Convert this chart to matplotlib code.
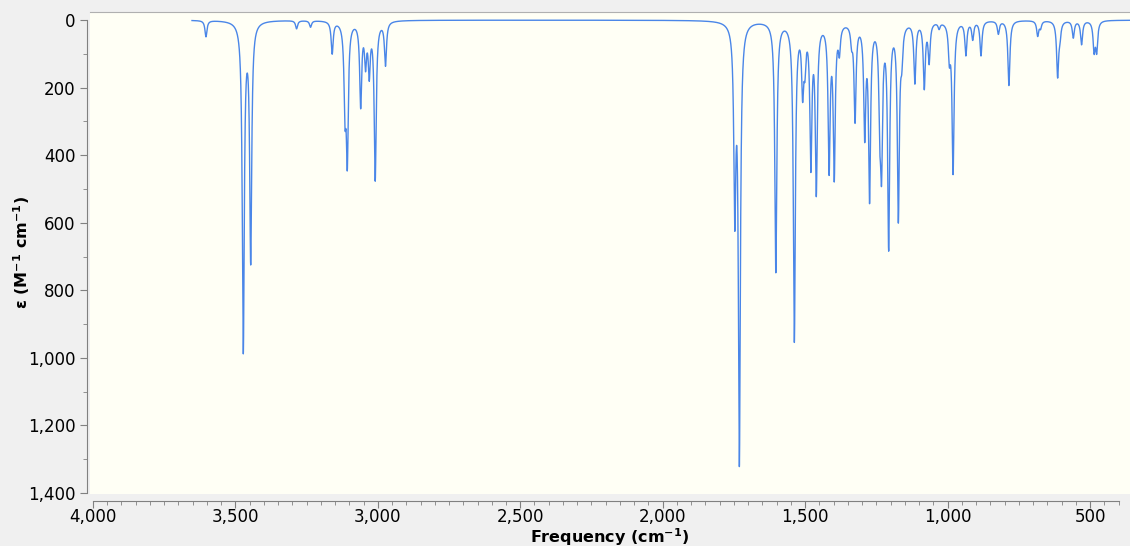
"""IR spectrum: molar absorptivity vs frequency, Lorentzian-broadened stick list."""

import matplotlib.pyplot as plt
import numpy as np
from matplotlib.ticker import FuncFormatter, MultipleLocator

# Stick spectrum (cm^-1, M^-1 cm^-1)
high_freq = [3603, 3472, 3446, 3285, 3236, 3160, 3115, 3107, 3060, 3043,
             3030, 3009, 2973]
high_eps = [48, 970, 700, 24, 19, 95, 235, 390, 245, 115, 145, 465, 128]

low_freq = [1747, 1731, 1603, 1538, 1509, 1501, 1480, 1461, 1416, 1398,
            1380, 1337, 1325, 1291, 1274, 1238, 1232, 1207, 1173, 1161,
            1115, 1082, 1065, 1030, 994, 981, 936, 912, 883, 822, 785,
            684, 674, 614, 606, 559, 530, 486, 477]
low_eps = [540, 1285, 740, 940, 185, 105, 410, 490, 425, 445,
           75, 48, 285, 320, 510, 240, 380, 655, 575, 85,
           178, 192, 115, 18, 95, 445, 98, 52, 102, 38, 192,
           44, 20, 162, 38, 50, 70, 85, 85]

hwhm = 4.2  # cm^-1 half-width at half height
freq_start, freq_end = 3652, 300

centers = np.array(high_freq + low_freq, dtype=float)
heights = np.array(high_eps + low_eps, dtype=float)
freq = np.linspace(freq_start, freq_end, 20000)
eps = (heights[None, :] * hwhm**2 /
       ((freq[:, None] - centers[None, :])**2 + hwhm**2)).sum(axis=1)

fig = plt.figure(figsize=(11.3, 5.46), dpi=100, facecolor='#f0f0f0')
ax = fig.add_axes([90 / 1130, 52 / 546, 1 - 90 / 1130, 482 / 546])
ax.set_facecolor('#fffff5')

ax.plot(freq, eps, color='#4a86e8', lw=1.0)

ax.set_xlim(4010, 360)
ax.set_ylim(1403, -24)

# Axis styling: detached left/bottom axes, light frame on top
ax.spines['right'].set_visible(False)
ax.spines['top'].set_color('#b0b0b0')
ax.spines['left'].set_position(('outward', 2))
ax.spines['bottom'].set_position(('outward', 5))
ax.spines['left'].set_bounds(0, 1400)
ax.spines['bottom'].set_bounds(400, 4000)
for side in ('left', 'bottom'):
    ax.spines[side].set_color('#808080')

ax.xaxis.set_major_locator(MultipleLocator(500))
ax.xaxis.set_minor_locator(MultipleLocator(50))
ax.yaxis.set_major_locator(MultipleLocator(200))
ax.yaxis.set_minor_locator(MultipleLocator(100))
fmt = FuncFormatter(lambda v, _: f'{v:,.0f}')
ax.xaxis.set_major_formatter(fmt)
ax.yaxis.set_major_formatter(fmt)
ax.tick_params(which='both', color='#808080', labelsize=12)
ax.tick_params(which='major', length=5)
ax.tick_params(which='minor', length=3)
ax.tick_params(axis='x', pad=0)

ax.set_xlabel('Frequency (cm$^{\\mathbf{-1}}$)', fontsize=11.5,
              fontweight='bold', va='center')
ax.set_ylabel('ε (M$^{\\mathbf{-1}}$ cm$^{\\mathbf{-1}}$)', fontsize=11.5,
              fontweight='bold', va='center')
ax.xaxis.set_label_coords(0.5, -0.089)
ax.yaxis.set_label_coords(-0.066, 0.5)

plt.savefig('out.png', dpi=100, facecolor=fig.get_facecolor())
